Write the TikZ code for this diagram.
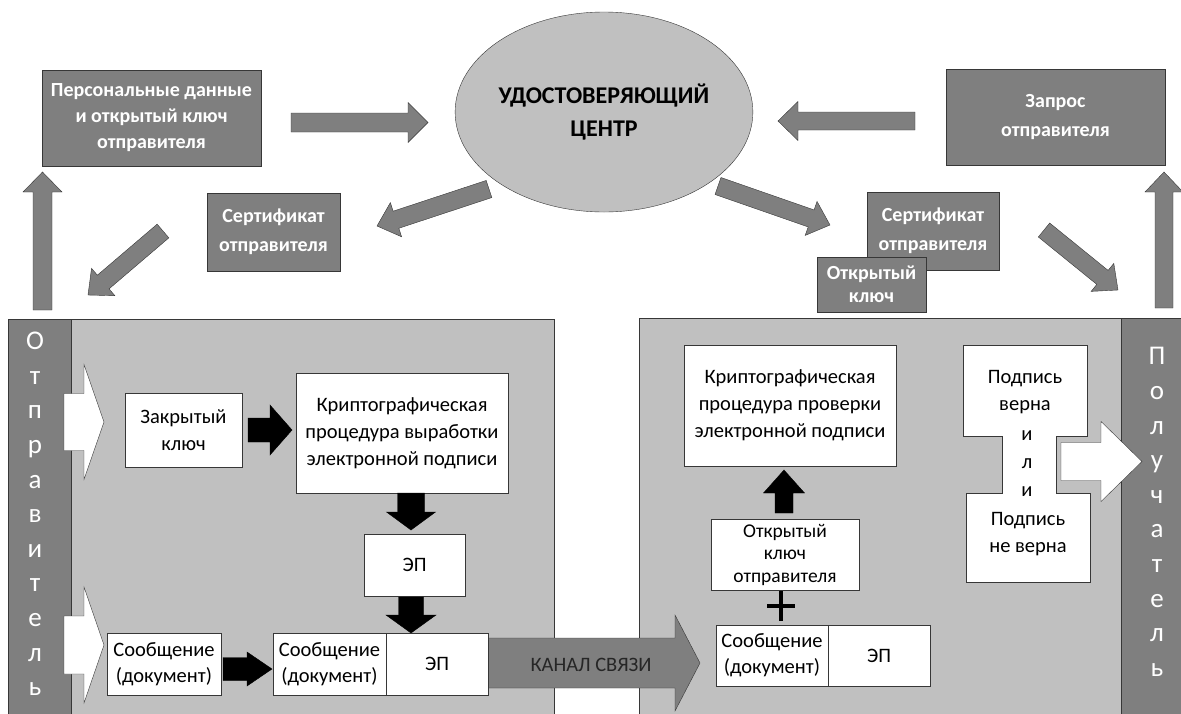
\documentclass[tikz,border=0pt]{standalone}
\usepackage{fontspec}
\setmainfont{Carlito}
\usepackage{tikz}
\usetikzlibrary{calc,shapes.geometric}

\definecolor{boxgray}{RGB}{127,127,127}
\definecolor{panelgray}{RGB}{192,192,192}
\definecolor{edgegray}{RGB}{55,55,55}

\begin{document}
\begin{tikzpicture}[x=1pt,y=-1pt]
      %use to draw block arrows: body half width, head half width, head length
      \tikzset{
      blk/.style n args={3}{
        to path={let \p1=($(\tikztotarget)!#3!(\tikztostart)$) in
        ($(\tikztostart)!#1!90:(\tikztotarget)$)
        -- ($(\p1)!#1!90:(\tikztotarget)$)
        -- ($(\p1)!#2!90:(\tikztotarget)$)
        -- (\tikztotarget)
        -- ($(\p1)!#2!-90:(\tikztotarget)$)
        -- ($(\p1)!#1!-90:(\tikztotarget)$)
        -- ($(\tikztostart)!#1!-90:(\tikztotarget)$)
        -- cycle}
      },
      txt/.style={align=center, font=\fontsize{20.5}{27}\selectfont},
      whitebox/.style={draw=edgegray, fill=white, inner sep=0pt, txt},
      graybox/.style={draw=edgegray, fill=boxgray, inner sep=0pt, text=white, align=center,
        font=\bfseries\fontsize{20}{29}\selectfont},
      panel/.style={draw=edgegray, fill=panelgray, inner sep=0pt},
      side/.style={draw=edgegray, fill=boxgray, inner sep=0pt},
      sidetxt/.style={text=white, align=center, inner sep=0pt, font=\fontsize{27}{34.6}\selectfont},
      grayarrow/.style={draw=edgegray, fill=boxgray},
      blackarrow/.style={draw=black, fill=black},
      openarrow/.style={draw=edgegray, fill=white},
      }
      \useasboundingbox (0,0) rectangle (1181,713);

      %Certification centre and requests
      \node[ellipse, draw=edgegray, fill=panelgray, minimum width=224pt, minimum height=200pt,
        inner sep=0pt, align=center, font=\bfseries\fontsize{24}{33}\selectfont] (uc) at (604,112)
        {УДОСТОВЕРЯЮЩИЙ\\ЦЕНТР};
      \node[graybox, minimum width=219pt, minimum height=96pt, font=\bfseries\fontsize{20}{26}\selectfont]
        (pdata) at (151.5,118) {Персональные данные\\и открытый ключ\\отправителя};
      \node[graybox, minimum width=219pt, minimum height=96pt] (req) at (1055.5,117)
        {Запрос\\отправителя};
      \node[graybox, minimum width=133pt, minimum height=78pt] (certl) at (273.5,232)
        {Сертификат\\отправителя};
      \node[graybox, minimum width=132pt, minimum height=78pt] (certr) at (933,231)
        {Сертификат\\отправителя};
      \node[graybox, minimum width=109pt, minimum height=55pt, font=\bfseries\fontsize{20}{23}\selectfont]
        (pubk) at (871.5,284.5) {Открытый\\ключ};

      \coordinate (a1-s) at (291,122.5);  \coordinate (a1-t) at (428,122.5);
      \coordinate (a2-s) at (915,121);    \coordinate (a2-t) at (778,121);
      \coordinate (a3-s) at (42.5,310);   \coordinate (a3-t) at (42.5,172);
      \coordinate (a4-s) at (1164,308);   \coordinate (a4-t) at (1164,172);
      \coordinate (a5-s) at (489,189);    \coordinate (a5-t) at (377,226);
      \coordinate (a6-s) at (163,231);    \coordinate (a6-t) at (88,295);
      \coordinate (a7-s) at (718,186);    \coordinate (a7-t) at (830,225);
      \coordinate (a8-s) at (1044,230);   \coordinate (a8-t) at (1118,290);
      \draw[grayarrow] (a1-s) to[blk={9.5pt}{20pt}{20pt}] (a1-t);
      \draw[grayarrow] (a2-s) to[blk={9pt}{19.5pt}{20pt}] (a2-t);
      \draw[grayarrow] (a3-s) to[blk={9.5pt}{19.5pt}{20pt}] (a3-t);
      \draw[grayarrow] (a4-s) to[blk={9pt}{19pt}{20pt}] (a4-t);
      \draw[grayarrow] (a5-s) to[blk={9pt}{18pt}{20pt}] (a5-t);
      \draw[grayarrow] (a6-s) to[blk={9pt}{18pt}{20pt}] (a6-t);
      \draw[grayarrow] (a7-s) to[blk={9pt}{18pt}{20pt}] (a7-t);
      \draw[grayarrow] (a8-s) to[blk={9pt}{18pt}{20pt}] (a8-t);

      %Sender
      \node[panel, minimum width=546pt, minimum height=397pt] (sndpanel) at (281,517.5) {};
      \node[side, minimum width=63pt, minimum height=397pt] (sndside) at (39.5,517.5) {};
      \node[sidetxt] (sndname) at (35,514) {О\\т\\п\\р\\а\\в\\и\\т\\е\\л\\ь};
      \node[whitebox, minimum width=117pt, minimum height=74pt] (closed) at (183.5,430)
        {Закрытый\\ключ};
      \node[whitebox, minimum width=212pt, minimum height=120pt] (sign) at (402,433)
        {Криптографическая\\процедура выработки\\электронной подписи};
      \node[whitebox, minimum width=101pt, minimum height=62pt] (ep) at (414.5,565) {ЭП};
      \node[whitebox, minimum width=114pt, minimum height=62pt, font=\fontsize{20.5}{26}\selectfont]
        (msg) at (164,664) {Сообщение\\(документ)};

      \coordinate (o1-s) at (64,422);   \coordinate (o1-t) at (104,422);
      \coordinate (o2-s) at (64,645);   \coordinate (o2-t) at (104,645);
      \coordinate (b1-s) at (248,430);  \coordinate (b1-t) at (292,430);
      \coordinate (b2-s) at (411,493);  \coordinate (b2-t) at (411,530);
      \coordinate (b3-s) at (411,597);  \coordinate (b3-t) at (411,633);
      \coordinate (b4-s) at (223,669);  \coordinate (b4-t) at (272,669);
      \draw[openarrow] (o1-s) to[blk={28.5pt}{57.5pt}{20pt}] (o1-t);
      \draw[openarrow] (o2-s) to[blk={29pt}{58pt}{20pt}] (o2-t);
      \draw[blackarrow] (b1-s) to[blk={12pt}{25pt}{22pt}] (b1-t);
      \draw[blackarrow] (b2-s) to[blk={13.5pt}{24.5pt}{18pt}] (b2-t);
      \draw[blackarrow] (b3-s) to[blk={12.5pt}{25pt}{18pt}] (b3-t);
      \draw[blackarrow] (b4-s) to[blk={11.5pt}{17pt}{25pt}] (b4-t);

      %Receiver
      \node[panel, minimum width=551pt, minimum height=398pt] (rcvpanel) at (914.5,517) {};
      \node[side, minimum width=69pt, minimum height=398pt] (rcvside) at (1155.5,517) {};
      \node[sidetxt] (rcvname) at (1157,512) {П\\о\\л\\у\\ч\\а\\т\\е\\л\\ь};
      \node[whitebox, minimum width=212pt, minimum height=121pt] (verify) at (790,405.5)
        {Криптографическая\\процедура проверки\\электронной подписи};
      \node[whitebox, minimum width=148pt, minimum height=71pt, font=\fontsize{19.5}{22.5}\selectfont]
        (key) at (785,554.5) {Открытый\\ключ\\отправителя};
      %plus between key and message
      \coordinate (plus) at (781,606);
      \draw[line width=3.5pt] ($(plus)+(-14,0)$) -- ($(plus)+(14,0)$)
        ($(plus)+(0,-15)$) -- ($(plus)+(0,15)$);

      %hourglass box with the result
      \draw[edgegray, fill=white] (963,345) -- (1087,345) -- (1087,436) -- (1056,436) -- (1056,493)
        -- (1090,493) -- (1090,582) -- (966,582) -- (966,493) -- (1002,493) -- (1002,436)
        -- (963,436) -- cycle;
      \node[txt] (ok) at (1025,392) {Подпись\\верна};
      \node[txt, font=\fontsize{20.5}{28}\selectfont] (or) at (1027,464) {и\\л\\и};
      \node[txt] (bad) at (1028,534) {Подпись\\не верна};

      \coordinate (b5-s) at (784,513);    \coordinate (b5-t) at (784,470);
      \coordinate (o3-s) at (1061,461.5); \coordinate (o3-t) at (1142,461.5);
      \draw[blackarrow] (b5-s) to[blk={9pt}{20.5pt}{23pt}] (b5-t);
      \draw[openarrow] (o3-s) to[blk={19pt}{40pt}{41pt}] (o3-t);

      %Channel
      \coordinate (ch-s) at (488,663);  \coordinate (ch-t) at (700,663);
      \draw[grayarrow] (ch-s) to[blk={25pt}{48pt}{25pt}] (ch-t);
      \node[txt, text=black!85] (chlbl) at (591,665) {КАНАЛ СВЯЗИ};

      %Signed message
      \node[whitebox, minimum width=113pt, minimum height=62pt, font=\fontsize{20.5}{26}\selectfont]
        (smsg) at (329.5,664) {Сообщение\\(документ)};
      \node[whitebox, minimum width=102pt, minimum height=62pt] (sep) at (437,664) {ЭП};
      \node[whitebox, minimum width=112pt, minimum height=61pt, font=\fontsize{20.5}{26}\selectfont]
        (rmsg) at (772,655.5) {Сообщение\\(документ)};
      \node[whitebox, minimum width=102pt, minimum height=61pt] (rep) at (879,655.5) {ЭП};
\end{tikzpicture}
\end{document}
